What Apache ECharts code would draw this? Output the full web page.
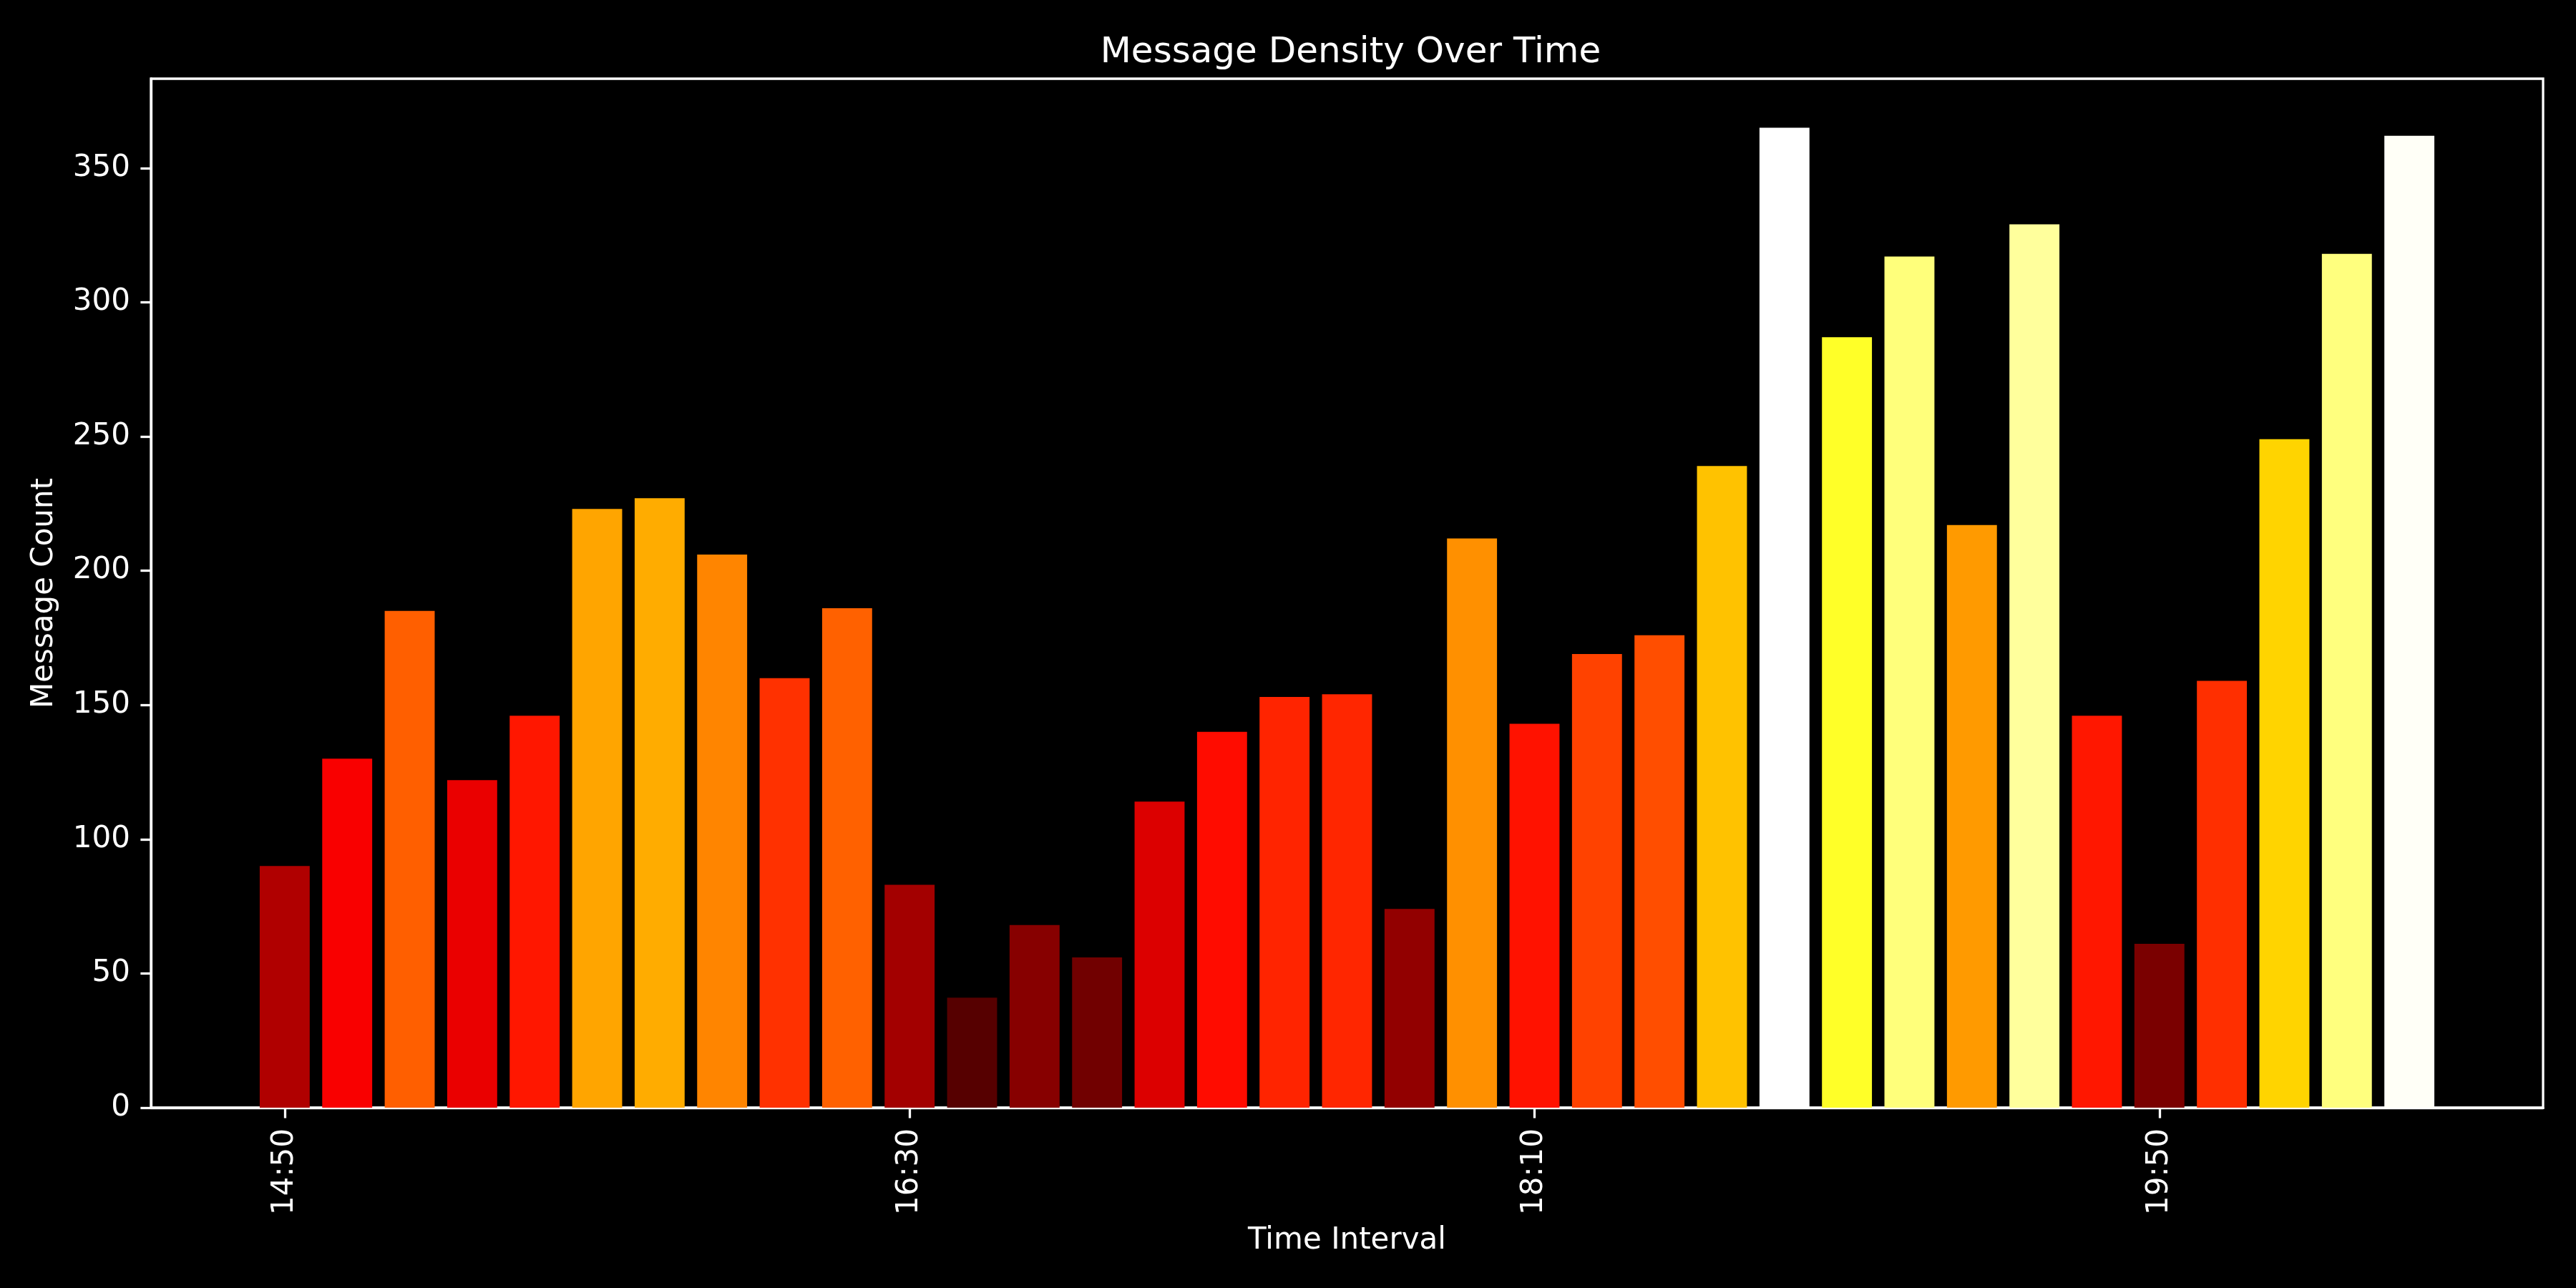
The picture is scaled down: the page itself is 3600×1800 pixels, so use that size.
<!DOCTYPE html>
<html>
<head>
<meta charset="utf-8">
<script src="https://cdn.jsdelivr.net/npm/echarts@6/dist/echarts.min.js"></script>
<style>
html,body{margin:0;padding:0;background:#000;}
#chart{width:3600px;height:1800px;}
</style>
</head>
<body>
<div id="chart"></div>
<script>
const timeLabels = ["14:50","15:00","15:10","15:20","15:30","15:40","15:50","16:00","16:10","16:20",
  "16:30","16:40","16:50","17:00","17:10","17:20","17:30","17:40","17:50","18:00",
  "18:10","18:20","18:30","18:40","18:50","19:00","19:10","19:20","19:30","19:40",
  "19:50","20:00","20:10","20:20","20:30"];
const messageCounts = [90,130,185,122,146,223,227,206,160,186,
  83,41,68,56,114,140,153,154,74,212,
  143,169,176,239,365,287,317,217,329,146,
  61,159,249,318,362];
const xTickIndices = [0,10,20,30];
const yTicks = [0,50,100,150,200,250,300,350];

// matplotlib "hot" colormap
function hot(t){
  t = Math.max(0, Math.min(1, t));
  const r = t < 0.365079 ? 0.0416 + (1-0.0416)*t/0.365079 : 1;
  const g = t < 0.365079 ? 0 : (t < 0.746032 ? (t-0.365079)/(0.746032-0.365079) : 1);
  const b = t < 0.746032 ? 0 : (t-0.746032)/(1-0.746032);
  const h = x => Math.round(x*255);
  return 'rgb(' + h(r) + ',' + h(g) + ',' + h(b) + ')';
}
const vmax = Math.max(...messageCounts);
const n = messageCounts.length;
const xMin = -0.4 - 0.05*(n - 1 + 0.8);
const xMax = n - 1 + 0.4 + 0.05*(n - 1 + 0.8);
const yMax = vmax * 1.05;

const gridL = 211, gridR = 46, gridT = 110, gridB = 252;
const gridW = 3600 - gridL - gridR;
const barW = 0.8 * gridW / (xMax - xMin);

const FONT = 'DejaVu Sans';
const chart = echarts.init(document.getElementById('chart'), null, {renderer:'canvas'});
chart.setOption({
  backgroundColor: '#000',
  animation: false,
  title: {
    text: 'Message Density Over Time',
    left: gridL + gridW/2, top: 44, textAlign: 'center',
    textStyle: {color:'#fff', fontFamily: FONT, fontSize: 50, fontWeight: 'normal'}
  },
  grid: {left: gridL, right: gridR, top: gridT, bottom: gridB, show: true,
    borderColor: '#fff', borderWidth: 3.3, backgroundColor: '#000'},
  xAxis: {
    type: 'value', min: xMin, max: xMax,
    name: 'Time Interval', nameLocation: 'middle', nameGap: 165,
    nameTextStyle: {color:'#fff', fontFamily: FONT, fontSize: 42},
    axisLine: {show: true, onZero: false, lineStyle: {color:'#fff', width: 3.3}},
    axisTick: {show: true, length: 14.6, lineStyle: {color:'#fff', width: 3.3}, customValues: xTickIndices},
    axisLabel: {color:'#fff', fontFamily: FONT, fontSize: 42, rotate: 90, margin: 29,
      customValues: xTickIndices, formatter: v => timeLabels[Math.round(v)]},
    splitLine: {show: false}
  },
  yAxis: {
    type: 'value', min: 0, max: yMax,
    name: 'Message Count', nameLocation: 'middle', nameGap: 128, nameRotate: 90,
    nameTextStyle: {color:'#fff', fontFamily: FONT, fontSize: 42},
    axisLine: {show: true, onZero: false, lineStyle: {color:'#fff', width: 3.3}},
    axisTick: {show: true, length: 14.6, lineStyle: {color:'#fff', width: 3.3}, customValues: yTicks},
    axisLabel: {color:'#fff', fontFamily: FONT, fontSize: 42, margin: 29, customValues: yTicks},
    splitLine: {show: false}
  },
  series: [{
    type: 'bar',
    barWidth: barW,
    data: messageCounts.map((v, i) => [i, v]),
    itemStyle: {color: p => hot(p.value[1] / vmax)}
  }]
});
</script>
</body>
</html>
